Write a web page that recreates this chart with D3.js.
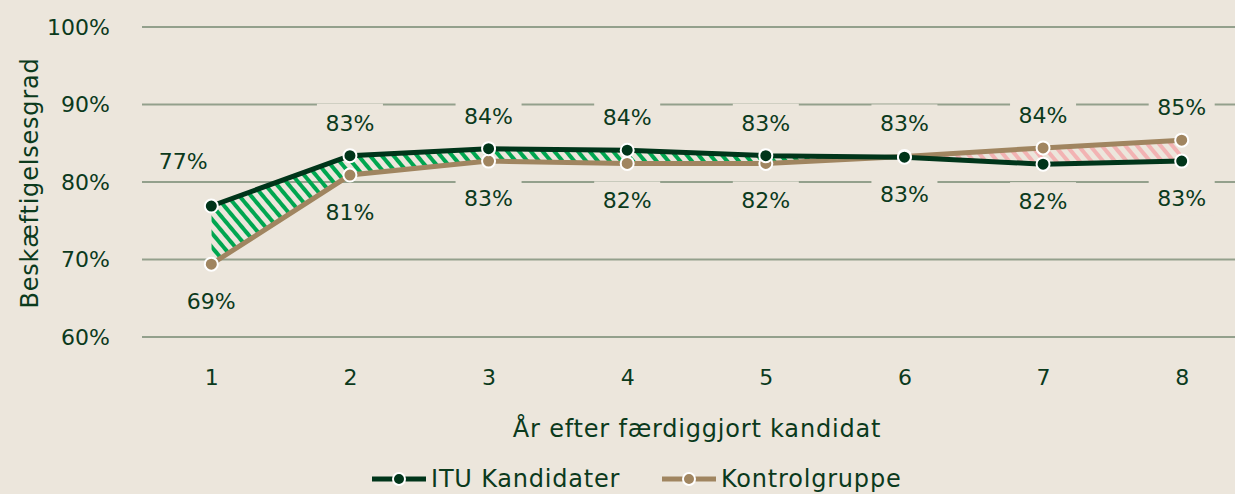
<!DOCTYPE html>
<html>
<head>
<meta charset="utf-8">
<script src="https://cdn.jsdelivr.net/npm/d3@7"></script>
<style>
  body { margin: 0; background: #ece6dc; }
  text { font-family: "DejaVu Sans", sans-serif; fill: #0b3a1c; }
  .words { letter-spacing: 0.8px; }
</style>
</head>
<body>
<div class="chart"></div>
<script>
var years = [1, 2, 3, 4, 5, 6, 7, 8];
var itu = [0.769, 0.834, 0.843, 0.841, 0.834, 0.832, 0.823, 0.827];
var kontrol = [0.694, 0.809, 0.827, 0.824, 0.824, 0.833, 0.844, 0.854];
var yTicks = [0.6, 0.7, 0.8, 0.9, 1.0];
var seriesNames = ["ITU Kandidater", "Kontrolgruppe"];

var svgWidth = 1235;
var svgHeight = 494;

var margin = { top: 27, right: -16, bottom: 157, left: 142 };
var width = svgWidth - margin.left - margin.right;
var height = svgHeight - margin.top - margin.bottom;

var green = "#00351a";
var tan = "#a08560";
var fontSize = "22px";
var wordSize = "24px";

var root = d3.select(".chart").append("svg")
  .attr("width", svgWidth)
  .attr("height", svgHeight);

var defs = root.append("defs");
function hatch(id, color) {
  var p = defs.append("pattern")
    .attr("id", id)
    .attr("patternUnits", "userSpaceOnUse")
    .attr("width", 9).attr("height", 9)
    .attr("patternTransform", "rotate(-40)");
  p.append("rect").attr("x", 0).attr("y", 0).attr("width", 4).attr("height", 9).attr("fill", color);
}
hatch("hatchGreen", "#00a650");
hatch("hatchPink", "#f2b3b3");

var svg = root.append("g")
  .attr("transform", "translate(" + margin.left + "," + margin.top + ")");

var x = d3.scalePoint().domain(years).range([0, width]).padding(0.5);
var y = d3.scaleLinear().domain([0.6, 1.0]).range([height, 0]);

var data = years.map(function(yr, i) { return { year: yr, a: itu[i], b: kontrol[i] }; });

// gridlines
svg.append("g").selectAll("line")
  .data(yTicks)
  .enter().append("line")
  .attr("x1", 0).attr("x2", width)
  .attr("y1", d => y(d)).attr("y2", d => y(d))
  .attr("stroke", "#93a08c")
  .attr("stroke-width", 2);

// axes (text only)
var leftAxis = d3.axisLeft(y).tickValues(yTicks).tickFormat(d3.format(".0%")).tickSize(0).tickPadding(32);
var gy = svg.append("g").call(leftAxis);
gy.select(".domain").remove();
gy.selectAll("text").attr("font-size", fontSize).style("fill", "#0b3a1c").style("font-family", "DejaVu Sans, sans-serif");

var bottomAxis = d3.axisBottom(x).tickSize(0).tickPadding(32);
var gx = svg.append("g").attr("transform", "translate(0," + height + ")").call(bottomAxis);
gx.select(".domain").remove();
gx.selectAll("text").attr("font-size", fontSize).style("fill", "#0b3a1c").style("font-family", "DejaVu Sans, sans-serif");

// data labels, higher series above, lower below (drawn before the lines)
var labels = [];
data.forEach(function(d, i) {
  var aUp = d.a >= d.b;
  labels.push({ year: d.year, v: d.a, up: aUp, i: i });
  labels.push({ year: d.year, v: d.b, up: !aUp, i: i });
});
var fmt = d3.format(".0%");
var lab = svg.selectAll("g.lab").data(labels).enter().append("g")
  .attr("class", "lab")
  .attr("transform", function(d) {
    var lx = x(d.year), ly = y(d.v) + (d.up ? -33 : 37);
    if (d.i === 0 && d.up) { lx -= 28; ly = y(d.v) - 45; }
    return "translate(" + lx + "," + ly + ")";
  });
lab.append("rect")
  .attr("x", -33).attr("y", -19).attr("width", 66).attr("height", 36)
  .attr("fill", "#ece6dc");
lab.append("text")
  .attr("text-anchor", "middle")
  .attr("dy", "0.36em")
  .attr("font-size", fontSize)
  .text(d => fmt(d.v));

// hatched difference areas
var aboveB = d3.area().x(d => x(d.year)).y0(0).y1(d => y(d.b));
var aboveA = d3.area().x(d => x(d.year)).y0(0).y1(d => y(d.a));
defs.append("clipPath").attr("id", "clipAboveB").append("path").attr("d", aboveB(data));
defs.append("clipPath").attr("id", "clipAboveA").append("path").attr("d", aboveA(data));

svg.append("path")
  .attr("d", d3.area().x(d => x(d.year)).y0(height).y1(d => y(d.a))(data))
  .attr("fill", "url(#hatchGreen)")
  .attr("clip-path", "url(#clipAboveB)");
svg.append("path")
  .attr("d", d3.area().x(d => x(d.year)).y0(height).y1(d => y(d.b))(data))
  .attr("fill", "url(#hatchPink)")
  .attr("clip-path", "url(#clipAboveA)");

// lines
var lineA = d3.line().x(d => x(d.year)).y(d => y(d.a));
var lineB = d3.line().x(d => x(d.year)).y(d => y(d.b));
svg.append("path").attr("d", lineB(data)).attr("fill", "none").attr("stroke", tan).attr("stroke-width", 5);
svg.append("path").attr("d", lineA(data)).attr("fill", "none").attr("stroke", green).attr("stroke-width", 5);

svg.selectAll("circle.b").data(data).enter().append("circle")
  .attr("class", "b")
  .attr("cx", d => x(d.year)).attr("cy", d => y(d.b)).attr("r", 6.5)
  .attr("fill", tan).attr("stroke", "#fff").attr("stroke-width", 2);
svg.selectAll("circle.a").data(data).enter().append("circle")
  .attr("class", "a")
  .attr("cx", d => x(d.year)).attr("cy", d => y(d.a)).attr("r", 6.5)
  .attr("fill", green).attr("stroke", "#fff").attr("stroke-width", 2);

// axis titles
svg.append("text")
  .attr("class", "words")
  .attr("transform", "rotate(-90)")
  .attr("x", -height / 2 - 1)
  .attr("y", -margin.left + 38)
  .attr("text-anchor", "middle")
  .attr("font-size", wordSize)
  .text("Beskæftigelsesgrad");

root.append("text")
  .attr("class", "words")
  .attr("x", 697).attr("y", 437)
  .attr("text-anchor", "middle")
  .attr("font-size", wordSize)
  .text("År efter færdiggjort kandidat");

// legend
var legendX = [372, 662];
var legendColors = [green, tan];
var lg = root.selectAll("g.legend").data(seriesNames).enter().append("g")
  .attr("class", "legend")
  .attr("transform", (d, i) => "translate(" + legendX[i] + ",479)");
lg.append("line").attr("x1", 0).attr("x2", 54).attr("y1", 0).attr("y2", 0)
  .attr("stroke", (d, i) => legendColors[i]).attr("stroke-width", 5);
lg.append("circle").attr("cx", 27).attr("cy", 0).attr("r", 6)
  .attr("fill", (d, i) => legendColors[i]).attr("stroke", "#fff").attr("stroke-width", 2);
lg.append("text").attr("class", "words").attr("x", 59).attr("dy", "0.35em").attr("font-size", wordSize).text(d => d);
</script>
</body>
</html>
